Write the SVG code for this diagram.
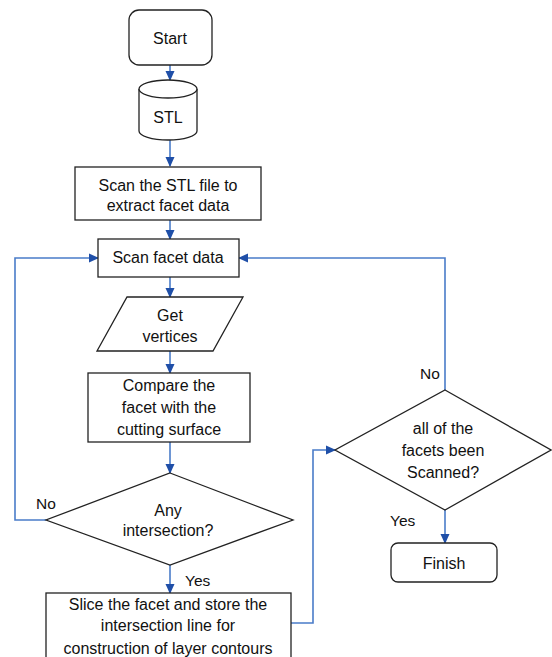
<svg xmlns="http://www.w3.org/2000/svg" width="552" height="657" viewBox="0 0 552 657">
<style>
.n{fill:#fff;stroke:#222;stroke-width:1.3}
.t{font-family:"Liberation Sans",Arial,sans-serif;font-size:16px;fill:#111;text-anchor:middle}
.l{font-family:"Liberation Sans",Arial,sans-serif;font-size:15.5px;fill:#111}
.c{fill:none;stroke:#4a7cc9;stroke-width:1.6}
</style>
<defs>
<marker id="a" markerWidth="10" markerHeight="10" refX="9" refY="5" orient="auto" markerUnits="userSpaceOnUse">
<path d="M0,0.5 L10,5 L0,9.5 Z" fill="#1f4fa8"/>
</marker>
</defs>
<rect width="552" height="657" fill="#fff"/>
<g id="connectors">
<path class="c" d="M170,65 V80" marker-end="url(#a)"/>
<path class="c" d="M170,140 V166" marker-end="url(#a)"/>
<path class="c" d="M170,220 V239" marker-end="url(#a)"/>
<path class="c" d="M170,277 V297" marker-end="url(#a)"/>
<path class="c" d="M170,351 V373" marker-end="url(#a)"/>
<path class="c" d="M170,442 V473" marker-end="url(#a)"/>
<path class="c" d="M46,520 H15 V258 H98" marker-end="url(#a)"/>
<path class="c" d="M170,565 V593" marker-end="url(#a)"/>
<path class="c" d="M291,623 H313 V450 H335" marker-end="url(#a)"/>
<path class="c" d="M445,390 V258 H239" marker-end="url(#a)"/>
<path class="c" d="M445,510 V543" marker-end="url(#a)"/>
<text class="l" x="36" y="509">No</text>
<text class="l" x="185" y="586">Yes</text>
<text class="l" x="420" y="379">No</text>
<text class="l" x="390" y="526">Yes</text>
</g>
<g id="start">
<rect class="n" x="129" y="10" width="83" height="55" rx="10"/>
<text class="t" x="170" y="44">Start</text>
</g>
<g id="stl">
<path class="n" d="M139,89 V131 A29,9 0 0 0 197,131 V89"/>
<ellipse class="n" cx="168" cy="89" rx="29" ry="9"/>
<text class="t" x="168" y="123">STL</text>
</g>
<g id="scan-file">
<rect class="n" x="75" y="167" width="186" height="53"/>
<text class="t" x="168" y="191">Scan the STL file to</text>
<text class="t" x="168" y="211">extract facet data</text>
</g>
<g id="scan-facet">
<rect class="n" x="98" y="239" width="141" height="38"/>
<text class="t" x="168" y="263">Scan facet data</text>
</g>
<g id="get-vertices">
<path class="n" d="M127,297 H243 L213,351 H97 Z"/>
<text class="t" x="170" y="321">Get</text>
<text class="t" x="170" y="342">vertices</text>
</g>
<g id="compare">
<rect class="n" x="88" y="373" width="162" height="69"/>
<text class="t" x="169" y="391">Compare the</text>
<text class="t" x="169" y="413">facet with the</text>
<text class="t" x="169" y="435">cutting surface</text>
</g>
<g id="any-intersection">
<path class="n" d="M170,473 L293,520 L170,565 L46,520 Z"/>
<text class="t" x="168" y="516">Any</text>
<text class="t" x="168" y="536">intersection?</text>
</g>
<g id="slice">
<rect class="n" x="46" y="593" width="245" height="80"/>
<text class="t" x="168" y="610">Slice the facet and store the</text>
<text class="t" x="168" y="631">intersection line  for</text>
<text class="t" x="168" y="654">construction of layer contours</text>
</g>
<g id="all-scanned">
<path class="n" d="M445,390 L551,450 L445,510 L335,450 Z"/>
<text class="t" x="443" y="434">all of  the</text>
<text class="t" x="443" y="456">facets been</text>
<text class="t" x="443" y="478">Scanned?</text>
</g>
<g id="finish">
<rect class="n" x="391" y="543" width="106" height="39" rx="7"/>
<text class="t" x="444" y="569">Finish</text>
</g>
</svg>
